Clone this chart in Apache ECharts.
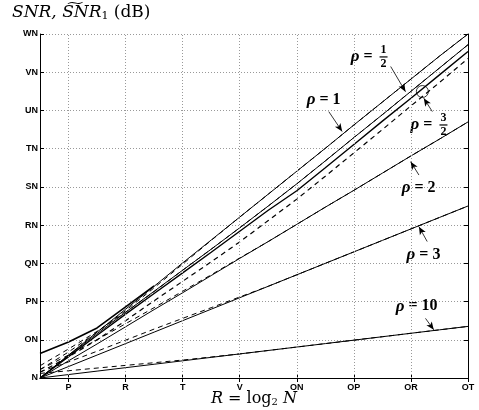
<!DOCTYPE html>
<html><head><meta charset="utf-8">
<script src="https://cdn.jsdelivr.net/npm/echarts@6/dist/echarts.min.js"></script>
<style>html,body{margin:0;padding:0;background:#fff}#c{width:479px;height:410px}</style>
</head><body><div id="c"></div>
<script>
// ---- data ----
const R = [1,2,3,4,5,6,7,8,9,10,11,12,13,14,15,16];
const xTicks = [2,4,6,8,10,12,14,16];
const xTickLabels = ['P','R','T','V','ON','OP','OR','OT'];
const yTicks = [0,10,20,30,40,50,60,70,80,90];
const yTickLabels = ['N','ON','PN','QN','RN','SN','TN','UN','VN','WN'];

const rho1Solid      = [0,6.0,12.0,18.0,24.0,30.1,36.1,42.1,48.1,54.1,60.1,66.2,72.2,78.2,84.2,90.0];
const rho1LowR       = [6.4,9.4,13.1,18.6,24.1];            // R = 1..5
const rhoHalfSolid   = [0,5.9,11.6,17.2,22.7,28.2,33.7,39.3,45.0,50.8,56.8,62.9,68.9,75.0,81.1,87.2];
const rho32Solid     = [0,5.6,11.2,16.7,22.1,27.5,32.9,38.4,43.9,49.0,55.0,61.1,67.2,73.2,79.3,85.4];
const rho32Dashed    = [1.5,5.5,10.0,15.0,20.2,25.3,30.4,35.6,41.2,46.8,52.8,58.9,65.0,71.2,77.3,83.6];
const rhoHalfDashed  = [3.2,7.6,12.2,17.2,22.6,28.2,33.7,39.3,45.0,50.8,56.8,62.9,68.9,75.0,81.1,87.2];
const rho1Dashed     = [2.2,6.8,12.0,17.6,23.6,29.8,36.0,42.1,48.1,54.1,60.1,66.2,72.2,78.2,84.2,90.0];
const rho2Solid      = [0,4.5,8.9,13.4,17.9,22.3,26.8,31.3,35.7,40.2,44.7,49.1,53.6,58.1,62.5,67.0];
const rho2Dashed     = [2.2,6.0,10.0,14.2,18.4,22.7,27.0,31.4,35.7,40.2,44.7,49.1,53.6,58.1,62.5,67.0];
const rho3Solid      = [0,3.0,6.0,9.0,12.0,15.0,18.0,21.0,24.0,27.0,30.0,33.0,36.0,39.0,42.0,45.0];
const rho3Dashed     = [1.6,4.2,7.0,9.9,12.8,15.6,18.4,21.2,24.0,27.0,30.0,33.0,36.0,39.0,42.0,45.0];
const rho10Solid     = [0,0.9,1.8,2.7,3.6,4.5,5.4,6.3,7.2,8.1,9.0,9.9,10.8,11.7,12.6,13.5];
const rho10Dashed    = [1.2,1.9,2.6,3.3,4.0,4.7,5.5,6.3,7.2,8.1,9.0,9.9,10.8,11.7,12.6,13.5];

// arrows [from R, from v, to R, to v]
const arrows = [
  [11.12,69.7,11.59,64.5],
  [13.29,81.5,13.81,74.9],
  [14.75,69.7,14.45,73.2],
  [14.28,53.1,13.99,56.6],
  [14.57,35.7,14.28,39.6],
  [14.51,15.6,14.80,12.6]
];

function pts(v){ return v.map((y,i)=>[R[i], y]); }
const chart = echarts.init(document.getElementById('c'), null, {renderer:'canvas'});
const solidStyle = {color:'#000', width:1};
const dashStyle = {color:'#000', width:1, type:[5,4]};
function line(name, data, style){
  return {name, type:'line', data:pts(data), symbol:'none', lineStyle:style, silent:true, animation:false, z:3};
}
const series = [
  line('rho1', rho1Solid, solidStyle),
  line('rho1low', rho1LowR, {color:'#000', width:1.6}),
  line('rhohalf', rhoHalfSolid, solidStyle),
  line('rho32', rho32Solid, {color:'#000', width:1.4}),
  line('rho32d', rho32Dashed, {color:'#000', width:1.2, type:[5,4]}),
  line('rhohalfd', rhoHalfDashed, dashStyle),
  line('rho1d', rho1Dashed, dashStyle),
  line('rho2', rho2Solid, solidStyle),
  line('rho2d', rho2Dashed, dashStyle),
  line('rho3', rho3Solid, solidStyle),
  line('rho3d', rho3Dashed, dashStyle),
  line('rho10', rho10Solid, solidStyle),
  line('rho10d', rho10Dashed, dashStyle),
  { type:'line', data:[], silent:true, animation:false, z:1,
    markLine:{ silent:true, symbol:'none', animation:false, label:{show:false},
      lineStyle:{color:'#999', width:1, type:[1,2]},
      data: xTicks.slice(0,-1).map(v=>({xAxis:v})) } },
  { type:'line', data:[], silent:true, animation:false, z:4,
    markLine:{ silent:true, symbol:['none','arrow'], symbolSize:[5,8], animation:false, label:{show:false},
      lineStyle:{color:'#000', width:0.8, type:'solid'},
      data: arrows.map(a=>[{coord:[a[0],a[1]]},{coord:[a[2],a[3]]}]) } }
];

const tickFont = {fontFamily:'Liberation Sans', fontWeight:'bold', fontSize:9, color:'#000'};
chart.setOption({
  animation:false,
  grid:{left:40, right:11, top:34, bottom:32},
  xAxis:[
    {type:'value', min:1, max:16, position:'bottom',
     axisLine:{lineStyle:{color:'#000', width:1}},
     axisTick:{inside:true, length:4, customValues:xTicks, lineStyle:{color:'#000'}},
     axisLabel:Object.assign({customValues:xTicks, margin:5,
       formatter:v=>xTickLabels[xTicks.indexOf(v)]||''}, tickFont),
     splitLine:{show:false}},
    {type:'value', min:1, max:16, position:'top',
     axisLine:{lineStyle:{color:'#000', width:1}},
     axisTick:{inside:true, length:4, customValues:xTicks, lineStyle:{color:'#000'}},
     axisLabel:{show:false}, splitLine:{show:false}}
  ],
  yAxis:[
    {type:'value', min:0, max:90, interval:10, position:'left',
     axisLine:{show:true, lineStyle:{color:'#000', width:1}},
     axisTick:{show:true, inside:true, length:4, lineStyle:{color:'#000'}},
     axisLabel:Object.assign({margin:2, formatter:v=>yTickLabels[yTicks.indexOf(v)]||''}, tickFont),
     splitLine:{show:true, lineStyle:{color:'#999', width:1, type:[1,2]}}},
    {type:'value', min:0, max:90, interval:10, position:'right',
     axisLine:{show:true, lineStyle:{color:'#000', width:1}},
     axisTick:{show:true, inside:true, length:4, lineStyle:{color:'#000'}},
     axisLabel:{show:false}, splitLine:{show:false}}
  ],
  series
});

// annotations
const P = (r,v)=>chart.convertToPixel({gridIndex:0}, [r,v]);
const lblFont = 'Liberation Serif';
function rhoText(cx, cy, rest, align){
  return {type:'text', x:cx, y:cy, style:{
    text:'{i|ρ}{b| = '+rest+'}', align:align||'center', verticalAlign:'middle',
    rich:{i:{fontFamily:lblFont, fontStyle:'italic', fontWeight:'bold', fontSize:17, fill:'#000'},
          b:{fontFamily:lblFont, fontWeight:'bold', fontSize:16, fill:'#000'}}}};
}
function fracText(cx, cy, num, den){
  return [
    {type:'text', x:cx, y:cy-7, style:{text:num, align:'center', verticalAlign:'middle', fontFamily:lblFont, fontWeight:'bold', fontSize:12, fill:'#000'}},
    {type:'line', shape:{x1:cx-4, y1:cy, x2:cx+4, y2:cy}, style:{stroke:'#000', lineWidth:1.2}},
    {type:'text', x:cx, y:cy+7, style:{text:den, align:'center', verticalAlign:'middle', fontFamily:lblFont, fontWeight:'bold', fontSize:12, fill:'#000'}}
  ];
}
const g = [];
let p;
p = P(10.94,72.8); g.push(rhoText(p[0],p[1],'1'));
p = P(13.04,84.0); g.push(rhoText(p[0]-7,p[1],'','right'));
g.push(...fracText(p[0],p[1],'1','2'));
p = P(15.14,66.2); g.push(rhoText(p[0]-7,p[1],'','right'));
g.push(...fracText(p[0],p[1],'3','2'));
p = P(14.27,49.7); g.push(rhoText(p[0],p[1],'2'));
p = P(14.44,32.2); g.push(rhoText(p[0],p[1],'3'));
p = P(14.2,18.8); g.push(rhoText(p[0],p[1],'10'));
p = P(14.4,74.95); g.push({type:'circle', shape:{cx:p[0], cy:p[1], r:6}, style:{fill:'none', stroke:'#000', lineWidth:0.8}});
// axis titles
g.push({type:'text', left:12, top:4, style:{
  text:'{i|SNR, S͠NR}{s|1}{r| (dB)}',
  rich:{i:{fontFamily:'DejaVu Serif', fontStyle:'italic', fontSize:17, fill:'#000'},
        s:{fontFamily:'DejaVu Serif', fontSize:11, fill:'#000', padding:[8,0,0,0]},
        r:{fontFamily:'DejaVu Serif', fontSize:17, fill:'#000'}}}});
const bc = P(8.5, 0);
g.push({type:'text', x:bc[0], y:399, style:{
  text:'{i|R}{r| = log}{s|2}{i| N}', align:'center', verticalAlign:'middle',
  rich:{i:{fontFamily:'DejaVu Serif', fontStyle:'italic', fontSize:16, fill:'#000'},
        r:{fontFamily:'DejaVu Serif', fontSize:16, fill:'#000'},
        s:{fontFamily:'DejaVu Serif', fontSize:10, fill:'#000', padding:[7,0,0,0]}}}});
chart.setOption({graphic:g});
</script></body></html>
